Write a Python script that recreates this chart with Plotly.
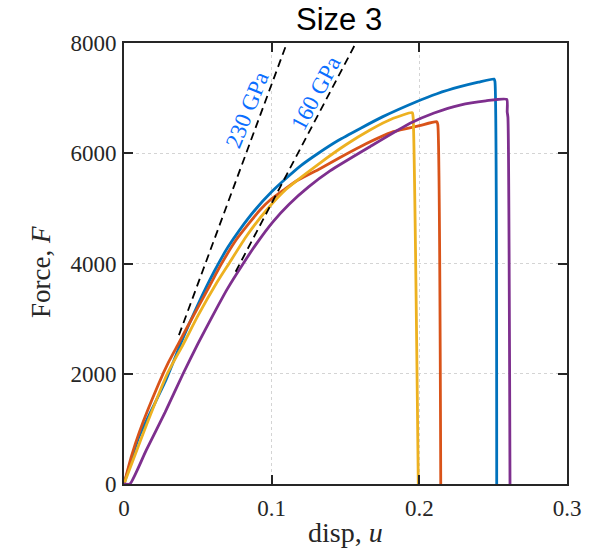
import plotly.graph_objects as go

# ---- data ----
blue_x = [0, 0.010, 0.0278, 0.040, 0.050, 0.061, 0.070, 0.0786, 0.089, 0.100, 0.110, 0.120,
          0.1316, 0.145, 0.160, 0.175, 0.198, 0.212, 0.2276, 0.240, 0.2506, 0.2512, 0.2524]
blue_y = [0, 850, 1850, 2650, 3250, 3850, 4280, 4620, 4980, 5300, 5550, 5780,
          6000, 6230, 6450, 6660, 6935, 7080, 7207, 7290, 7347, 7300, 0]

orange_x = [0, 0.005, 0.0105, 0.0232, 0.030, 0.0368, 0.0425, 0.050, 0.0583, 0.0655, 0.076,
            0.085, 0.0921, 0.099, 0.108, 0.117, 0.1327, 0.146, 0.160, 0.1824, 0.200, 0.2118,
            0.2125, 0.2145]
orange_y = [0, 500, 950, 1800, 2200, 2540, 2830, 3200, 3610, 3970, 4430,
            4740, 4971, 5152, 5330, 5500, 5720, 5920, 6120, 6391, 6500, 6572,
            6520, 0]

yellow_x = [0, 0.012, 0.0293, 0.040, 0.050, 0.0628, 0.0711, 0.083, 0.0966, 0.110, 0.1327,
            0.150, 0.1666, 0.1824, 0.1952, 0.1958, 0.1993]
yellow_y = [0, 850, 2000, 2530, 3050, 3650, 4000, 4500, 4971, 5350, 5823,
            6150, 6422, 6634, 6736, 6650, 0]

purple_x = [0, 0.004, 0.015, 0.0278, 0.040, 0.050, 0.060, 0.070, 0.081, 0.090, 0.101, 0.112,
            0.125, 0.1395, 0.1666, 0.1937, 0.210, 0.2276, 0.245, 0.2592, 0.2595, 0.2600,
            0.2614]
purple_y = [0, 0, 610, 1300, 2000, 2540, 3050, 3540, 4010, 4370, 4760, 5080,
            5390, 5680, 6119, 6543, 6730, 6875, 6950, 6978, 6750, 6650,
            0]

e230_x = [0.0372, 0.1110]
e230_y = [2700, 8050]
e160_x = [0.0756, 0.1580]
e160_y = [3850, 8050]

x_ticks = [0, 0.1, 0.2, 0.3]
x_labels = ["0", "0.1", "0.2", "0.3"]
y_ticks = [0, 2000, 4000, 6000, 8000]
y_labels = ["0", "2000", "4000", "6000", "8000"]

colors = ["#0072BD", "#D95319", "#EDB120", "#7E2F8E"]
series = [(blue_x, blue_y), (orange_x, orange_y), (yellow_x, yellow_y), (purple_x, purple_y)]

fig = go.Figure()
for (xs, ys), c in zip(series, colors):
    fig.add_trace(go.Scatter(x=xs, y=ys, mode="lines",
                             line=dict(color=c, width=2.8, shape="spline", smoothing=0.5),
                             showlegend=False))
for xs, ys in [(e230_x, e230_y), (e160_x, e160_y)]:
    fig.add_trace(go.Scatter(x=xs, y=ys, mode="lines",
                             line=dict(color="black", width=1.8, dash="8px,5px"),
                             showlegend=False))

serif = "Liberation Serif"
axis_common = dict(
    showline=True, linecolor="#262626", linewidth=1.6, mirror="ticks",
    ticks="inside", ticklen=9, tickwidth=1.6, tickcolor="#262626",
    showgrid=True, gridcolor="#d4d4d4", gridwidth=1.4, griddash="dot",
    zeroline=False, tickfont=dict(family=serif, size=23, color="#262626"),
)

fig.update_xaxes(range=[0, 0.3], tickvals=x_ticks, ticktext=x_labels,
                 ticklabelstandoff=3, **axis_common)
fig.update_yaxes(range=[0, 8000], tickvals=y_ticks, ticktext=y_labels,
                 ticklabelstandoff=1, **axis_common)

annotations = [
    dict(text="Size 3", x=0.4842, y=1.053, xref="paper", yref="paper",
         xanchor="center", yanchor="middle", showarrow=False,
         font=dict(family="Liberation Sans", size=31, color="black")),
    dict(text="disp, <i>u</i>", x=0.4989, y=-0.109, xref="paper", yref="paper",
         xanchor="center", yanchor="middle", showarrow=False,
         font=dict(family=serif, size=28, color="#262626")),
    dict(text="Force, <i>F</i>", x=-0.186, y=0.48, xref="paper", yref="paper",
         xanchor="center", yanchor="middle", showarrow=False, textangle=-90,
         font=dict(family=serif, size=27, color="#262626")),
    dict(text="230 GPa", x=0.0831, y=6784, xref="x", yref="y",
         xanchor="center", yanchor="middle", showarrow=False, textangle=-68,
         font=dict(family=serif, size=23, color="#0A6EFF")),
    dict(text="160 GPa", x=0.1298, y=7087, xref="x", yref="y",
         xanchor="center", yanchor="middle", showarrow=False, textangle=-62,
         font=dict(family=serif, size=23, color="#0A6EFF")),
]

fig.update_layout(
    width=605, height=556,
    margin=dict(l=124, r=38, t=43, b=72),
    paper_bgcolor="white", plot_bgcolor="white",
    annotations=annotations,
)

fig.write_html("out.html")
